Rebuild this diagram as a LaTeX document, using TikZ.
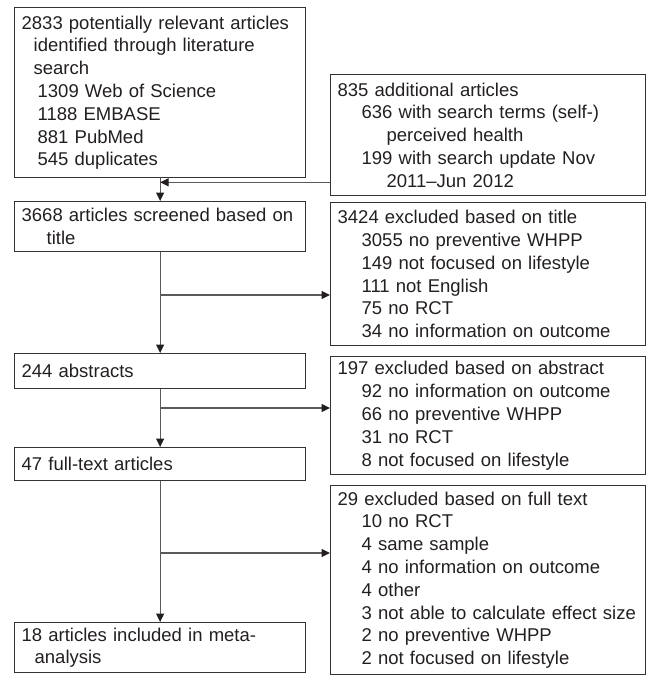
\documentclass[tikz,border=0pt]{standalone}
\usepackage{fontspec}
\setmainfont{Liberation Sans}
\usetikzlibrary{arrows.meta}

\definecolor{inkgray}{HTML}{231F20}
\definecolor{framegray}{HTML}{333333}
\definecolor{wiregray}{HTML}{5A5A5A}
\newcommand{\ind}[1]{\hspace*{#1pt}}

\begin{document}
\begin{tikzpicture}[
    x=1pt, y=-1pt,
    font=\fontsize{18.5}{22.8}\selectfont,
    stage/.style={
        rectangle, draw=framegray, line width=1.3pt,
        text=inkgray, anchor=north west,
        inner xsep=7pt, inner ysep=0pt,
        align=left
    },
    mainbox/.style={stage, text width=277pt, minimum width=291pt},
    sidebox/.style={stage, text width=301pt, minimum width=315pt},
    flow/.style={-{Triangle[length=8.5pt, width=8pt, color=inkgray]}, line width=1.1pt, draw=wiregray}
]
\useasboundingbox (0,0) rectangle (649,686);

% ============ Left column ============
\node[mainbox, minimum height=170pt] (search) at (14,7) {
    2833 potentially relevant articles\\
    \ind{12}identified through literature\\
    \ind{12}search\\
    \ind{16}1309 Web of Science\\
    \ind{16}1188 EMBASE\\
    \ind{16}881 PubMed\\
    \ind{16}545 duplicates
};
\node[mainbox, minimum height=50pt] (screened) at (14,201) {
    3668 articles screened based on\\
    \ind{25}title
};
\node[mainbox, minimum height=35pt] (abstracts) at (14,353) {244 abstracts};
\node[mainbox, minimum height=33pt] (fulltext) at (14,447) {47 full-text articles};
\node[mainbox, minimum height=50pt] (included) at (14,622) {
    18 articles included in meta-\\
    \ind{13}analysis
};

% ============ Right column ============
\node[sidebox, minimum height=121pt] (additional) at (330,74) {
    835 additional articles\\
    \ind{24}636 with search terms (self-)\\
    \ind{49}perceived health\\
    \ind{24}199 with search update Nov\\
    \ind{49}2011--Jun 2012
};
\node[sidebox, minimum height=143pt] (titleexcl) at (330,202) {
    3424 excluded based on title\\
    \ind{24}3055 no preventive WHPP\\
    \ind{24}149 not focused on lifestyle\\
    \ind{24}111 not English\\
    \ind{24}75 no RCT\\
    \ind{24}34 no information on outcome
};
\node[sidebox, minimum height=118pt] (abstractexcl) at (330,356) {
    197 excluded based on abstract\\
    \ind{24}92 no information on outcome\\
    \ind{24}66 no preventive WHPP\\
    \ind{24}31 no RCT\\
    \ind{24}8 not focused on lifestyle
};
\node[sidebox, minimum height=189pt] (fulltextexcl) at (330,485) {
    29 excluded based on full text\\
    \ind{24}10 no RCT\\
    \ind{24}4 same sample\\
    \ind{24}4 no information on outcome\\
    \ind{24}4 other\\
    \ind{24}3 not able to calculate effect size\\
    \ind{24}2 no preventive WHPP\\
    \ind{24}2 not focused on lifestyle
};

% ============ Flow ============
\coordinate (merge) at ([yshift=14pt]additional.south west);
\coordinate (split1) at (159.5,295);
\coordinate (split2) at (159.5,408);
\coordinate (split3) at (159.5,553);

\draw[flow] (search) -- (screened);
\draw[flow] (merge) -- (merge -| search.south);
\draw[flow] (screened) -- (abstracts);
\draw[flow] (split1) -- (split1 -| titleexcl.west);
\draw[flow] (abstracts) -- (fulltext);
\draw[flow] (split2) -- (split2 -| abstractexcl.west);
\draw[flow] (fulltext) -- (included);
\draw[flow] (split3) -- (split3 -| fulltextexcl.west);

\end{tikzpicture}
\end{document}
